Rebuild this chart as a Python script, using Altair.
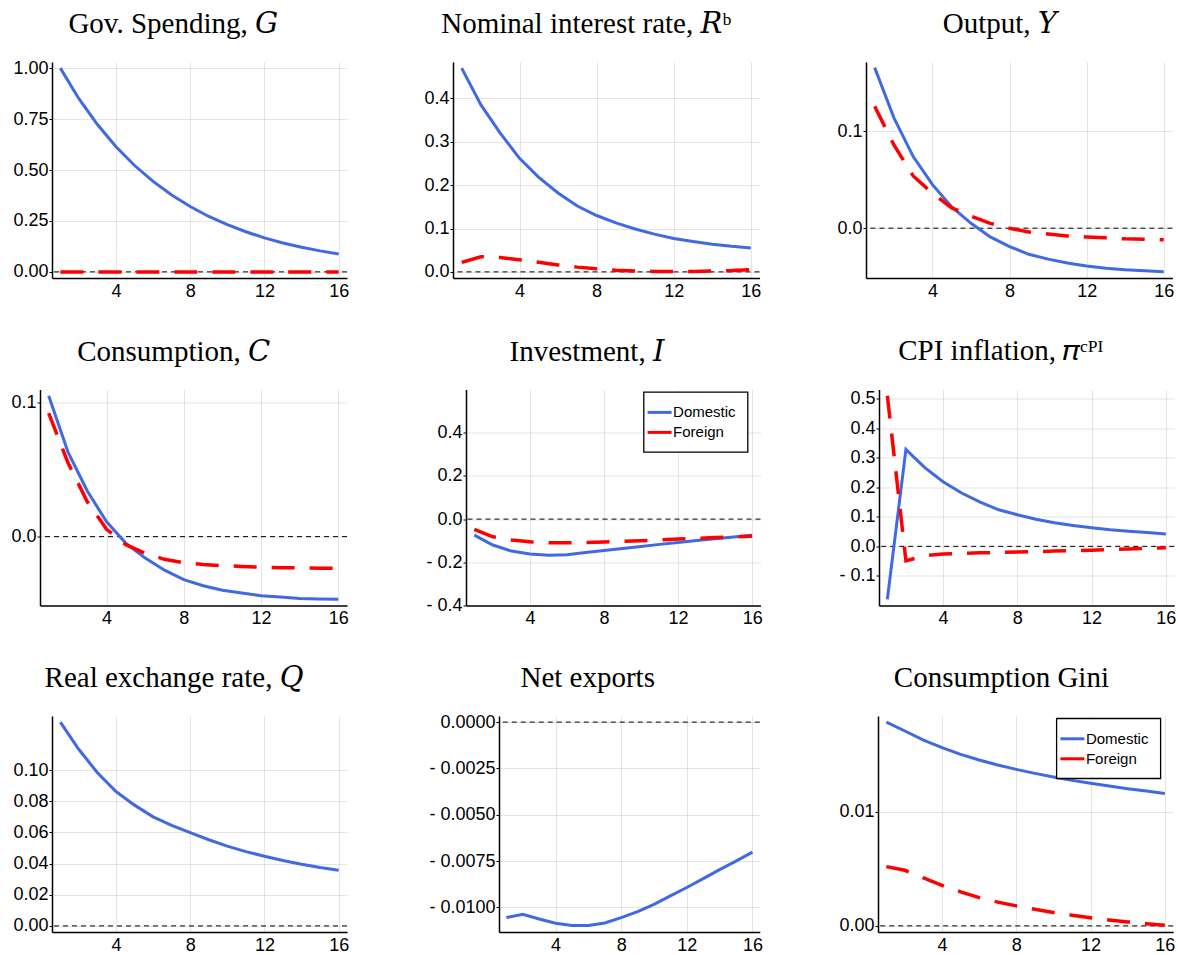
import altair as alt
import pandas as pd

# ---------------- data ----------------
T = list(range(1, 17))
SERIES = ["Domestic", "Foreign"]

gov_dom = [1.000, 0.850, 0.723, 0.614, 0.522, 0.444, 0.377, 0.321, 0.272, 0.232, 0.197, 0.167, 0.142, 0.121, 0.103, 0.088]
gov_for = [0.000, 0.000, 0.000, 0.000, 0.000, 0.000, 0.000, 0.000, 0.000, 0.000, 0.000, 0.000, 0.000, 0.000, 0.000, 0.000]

rate_dom = [0.470, 0.385, 0.320, 0.262, 0.218, 0.182, 0.152, 0.130, 0.113, 0.099, 0.087, 0.077, 0.070, 0.064, 0.059, 0.055]
rate_for = [0.022, 0.035, 0.033, 0.028, 0.022, 0.016, 0.011, 0.007, 0.004, 0.002, 0.001, 0.001, 0.001, 0.002, 0.003, 0.005]

out_dom = [0.166, 0.114, 0.074, 0.045, 0.022, 0.005, -0.009, -0.019, -0.027, -0.032, -0.036, -0.039, -0.0415, -0.043, -0.044, -0.045]
out_for = [0.126, 0.086, 0.054, 0.036, 0.021, 0.0125, 0.005, 0.000, -0.004, -0.006, -0.008, -0.009, -0.010, -0.011, -0.0115, -0.012]

cons_dom = [0.105, 0.063, 0.034, 0.011, -0.005, -0.016, -0.025, -0.032, -0.0366, -0.040, -0.042, -0.044, -0.045, -0.046, -0.0465, -0.0467]
cons_for = [0.092, 0.055, 0.026, 0.0055, -0.006, -0.0124, -0.0169, -0.0194, -0.0207, -0.0216, -0.0222, -0.0228, -0.0231, -0.0233, -0.0235, -0.0236]

inv_dom = [-0.074, -0.120, -0.148, -0.162, -0.167, -0.165, -0.155, -0.145, -0.136, -0.127, -0.117, -0.108, -0.099, -0.091, -0.083, -0.075]
inv_for = [-0.048, -0.082, -0.097, -0.105, -0.109, -0.110, -0.109, -0.106, -0.103, -0.100, -0.096, -0.092, -0.089, -0.085, -0.082, -0.079]

cpi_dom = [-0.180, 0.329, 0.268, 0.219, 0.181, 0.150, 0.124, 0.107, 0.092, 0.080, 0.071, 0.063, 0.056, 0.051, 0.047, 0.042]
cpi_for = [0.511, -0.049, -0.032, -0.026, -0.024, -0.022, -0.021, -0.019, -0.018, -0.016, -0.015, -0.013, -0.011, -0.009, -0.007, -0.005]

rer_dom = [0.1308, 0.1132, 0.0983, 0.0862, 0.0775, 0.0700, 0.0645, 0.0598, 0.0553, 0.0512, 0.0477, 0.0447, 0.0420, 0.0396, 0.0375, 0.0357]

nx_dom = [-0.01055, -0.01038, -0.01063, -0.01086, -0.01098, -0.01098, -0.01084, -0.01055, -0.01023, -0.00984, -0.00938, -0.00893, -0.00845, -0.00796, -0.00750, -0.00702]

gini_dom = [0.01784, 0.01706, 0.01627, 0.01560, 0.01501, 0.01452, 0.01408, 0.01370, 0.01335, 0.01303, 0.01274, 0.01248, 0.01224, 0.01201, 0.01181, 0.01160]
gini_for = [0.00519, 0.00487, 0.00420, 0.00355, 0.00298, 0.00248, 0.00208, 0.00175, 0.00145, 0.00117, 0.00093, 0.00071, 0.00052, 0.00035, 0.00019, 0.00006]

X_TICKS = [4, 8, 12, 16]

# ---------------- style ----------------
BLUE = "#4169E1"
RED = "#FF0000"
XDOM = [0.55, 16.45]
PH = 216
TITLE_FONT = "Liberation Serif, DejaVu Serif, serif"
SANS = "Liberation Sans"


def fmt_expr(spec, neg):
    if neg:
        return ("datum.value < 0 ? '- ' + format(-datum.value, '%s') : format(datum.value, '%s')"
                % (spec, spec))
    return "format(datum.value, '%s')" % spec


def panel(title, dx, toff, dom, fgn, ydom, yticks, spec, neg, width, extent, legend_xy=None):
    x = alt.X("t:Q", scale=alt.Scale(domain=XDOM, nice=False, zero=False),
              axis=alt.Axis(values=X_TICKS, format="d", title=None, ticks=False,
                            labelPadding=4, labelFlush=False))
    y = alt.Y("v:Q", scale=alt.Scale(domain=ydom, nice=False, zero=False),
              axis=alt.Axis(values=yticks, labelExpr=fmt_expr(spec, neg), title=None,
                            tickSize=3, labelPadding=1, minExtent=extent, maxExtent=extent,
                            labelFlush=False))
    if legend_xy is not None:
        leg = alt.Legend(title=None, orient="none", legendX=legend_xy[0], legendY=legend_xy[1],
                         direction="vertical", fillColor="white", strokeColor="black",
                         padding=11, labelFont=SANS, labelFontSize=15, labelColor="black",
                         symbolType="M-1.5,0L1.5,0", symbolSize=256, symbolStrokeWidth=3,
                         symbolOffset=-4.5, labelOffset=4, rowPadding=2, cornerRadius=0)
    else:
        leg = None
    color = alt.Color("series:N", scale=alt.Scale(domain=SERIES, range=[BLUE, RED]), legend=leg)

    zero = alt.Chart(pd.DataFrame({"v": [0.0]})).mark_rule(
        color="black", strokeWidth=1, strokeDash=[5, 4]).encode(y=y)
    layers = [zero]
    d_dom = pd.DataFrame({"t": T, "v": dom, "series": "Domestic"})
    layers.append(alt.Chart(d_dom).mark_line(strokeWidth=3).encode(x=x, y=y, color=color))
    if fgn is not None:
        d_for = pd.DataFrame({"t": T, "v": fgn, "series": "Foreign"})
        layers.append(alt.Chart(d_for).mark_line(strokeWidth=3.5, strokeDash=[23, 15])
                      .encode(x=x, y=y, color=color))
    return alt.layer(*layers).properties(
        width=width, height=PH,
        title=alt.TitleParams(text=title, font=TITLE_FONT, fontSize=29, fontWeight="normal",
                              color="black", anchor="middle", frame="group", baseline="alphabetic",
                              dx=dx, offset=toff))


def spacer(w):
    return (alt.Chart(pd.DataFrame({"s": [0]})).mark_point(size=1, opacity=0)
            .properties(width=w, height=PH))


OFF = 0
OV = 2.9  # top tick label overhang in panels whose top tick sits near the frame
p1 = panel("Gov. Spending, 𝐺", -26.2, OFF - OV, gov_dom, gov_for, [-0.03, 1.03],
           [0, 0.25, 0.5, 0.75, 1.0], ".2f", False, 295, 44)
p2 = panel("Nominal interest rate, 𝑅ᵇ", -20, OFF, rate_dom, rate_for, [-0.0141, 0.4841],
           [0, 0.1, 0.2, 0.3, 0.4], ".1f", False, 306.5, 103.7)
p3 = panel("Output, 𝑌", -19.3, OFF, out_dom, out_for, [-0.0515, 0.1718],
           [0, 0.1], ".1f", False, 306.4, 104.6)

p4 = panel("Consumption, 𝐶", -19.8, OFF, cons_dom, cons_for, [-0.0513, 0.1096],
           [0, 0.1], ".1f", False, 307, 32)
p5 = panel("Investment, 𝐼", -26.3, OFF, inv_dom, inv_for, [-0.4, 0.6],
           [-0.4, -0.2, 0, 0.2, 0.4], ".1f", True, 294.5, 116.7, legend_xy=(177.6, 2.4))
p6 = panel("CPI inflation, 𝜋ᶜᴾᴵ", -25.9, OFF, cpi_dom, cpi_for, [-0.2007, 0.532],
           [-0.1, 0, 0.1, 0.2, 0.3, 0.4, 0.5], ".1f", True, 295.2, 115.6)

p7 = panel("Real exchange rate, 𝑄", -25.5, OFF, rer_dom, None, [-0.0039, 0.1347],
           [0, 0.02, 0.04, 0.06, 0.08, 0.10], ".2f", False, 295, 43.7)
p8 = panel("Net exports", -41.7, OFF - OV, nx_dom, None, [-0.01133, 0.00033],
           [0, -0.0025, -0.005, -0.0075, -0.01], ".4f", True, 260.8, 149.6)
p9 = panel("Consumption Gini", -24.2, OFF, gini_dom, gini_for, [-0.000535, 0.018375],
           [0, 0.01], ".2f", False, 295.2, 115, legend_xy=(178.4, 2.3))

rows = []
for a, b, c in [(p1, p2, p3), (p4, p5, p6), (p7, p8, p9)]:
    rows.append(alt.hconcat(spacer(8), a, b, c, spacing=0)
                .resolve_scale(color="independent")
                .resolve_legend(color="independent"))

chart = (alt.vconcat(*rows, spacing=36.5)
         .resolve_scale(color="independent")
         .resolve_legend(color="independent")
         .properties(padding={"left": 0, "top": 9, "right": 0, "bottom": 0}, background="white")
         .configure_view(stroke=None)
         .configure_axis(labelFont=SANS, labelFontSize=18, labelColor="black",
                         domainColor="black", domainWidth=1.5, tickColor="black", tickWidth=1,
                         gridColor="black", gridOpacity=0.1, gridWidth=1)
         .configure_legend(strokeWidth=1.3))

chart.save("out.html", embed_options={"renderer": "svg", "actions": False})
